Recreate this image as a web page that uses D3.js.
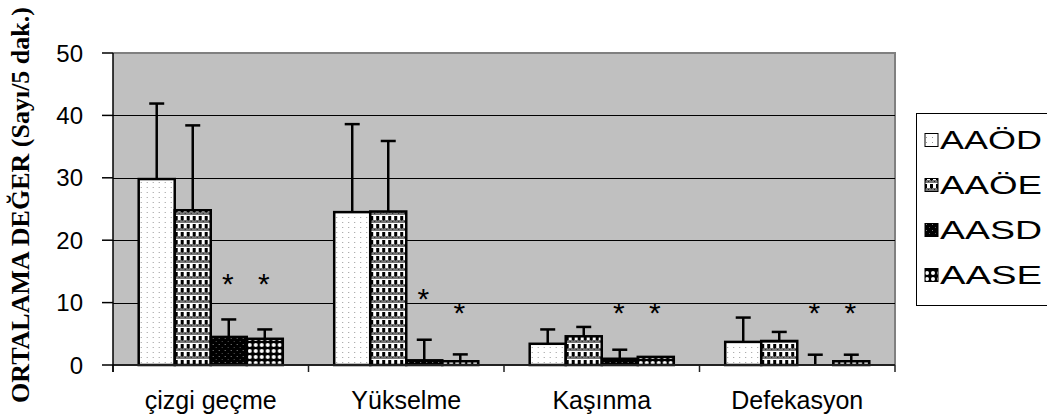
<!DOCTYPE html>
<html>
<head>
<meta charset="utf-8">
<script src="https://cdn.jsdelivr.net/npm/d3@7"></script>
<style>
  html, body { margin: 0; padding: 0; background: #fff; }
  svg { display: block; }
</style>
</head>
<body>
<div id="chart"></div>
<script>
// ---------- data ----------
const categories = ["çizgi geçme", "Yükselme", "Kaşınma", "Defekasyon"];
const seriesNames = ["AAÖD", "AAÖE", "AASD", "AASE"];
const meanAAOD = [29.8, 24.5, 3.4, 3.7];
const meanAAOE = [24.8, 24.6, 4.6, 3.85];
const meanAASD = [4.5, 0.75, 1.0, 0];
const meanAASE = [4.2, 0.6, 1.3, 0.6];
const sdAAOD = [12.1, 14.1, 2.3, 3.9];
const sdAAOE = [13.6, 11.3, 1.5, 1.45];
const sdAASD = [2.8, 3.3, 1.45, 1.65];
const sdAASE = [1.5, 1.1, 0, 1.05];
// significance markers (*) : y position (value units) above AASD / AASE bars
const starAASD = [13.8, 11.4, 9.1, 9.2];
const starAASE = [13.8, 9.2, 9.1, 9.2];
const yTicks = [0, 10, 20, 30, 40, 50];
const yTitle = "ORTALAMA DEĞER (Sayı/5 dak.)";

const means = [meanAAOD, meanAAOE, meanAASD, meanAASE];
const sds = [sdAAOD, sdAAOE, sdAASD, sdAASE];
const stars = [null, null, starAASD, starAASE];

// ---------- layout ----------
const W = 1047, H = 419;
const plot = { left: 113, right: 895, top: 53, bottom: 365 };

const svg = d3.select("#chart").append("svg")
  .attr("width", W).attr("height", H);

// ---------- patterns ----------
const defs = svg.append("defs");
// AAÖD: white with sparse grey dots
let p = defs.append("pattern").attr("id", "pat0").attr("patternUnits", "userSpaceOnUse")
  .attr("width", 6).attr("height", 5);
p.append("rect").attr("width", 6).attr("height", 5).attr("fill", "#fff");
p.append("rect").attr("x", 2).attr("y", 2).attr("width", 1).attr("height", 1).attr("fill", "#999");
// AAÖE: black/white checks with grey bands
p = defs.append("pattern").attr("id", "pat1").attr("patternUnits", "userSpaceOnUse")
  .attr("width", 6).attr("height", 8);
p.append("rect").attr("width", 6).attr("height", 8).attr("fill", "#fff");
p.append("rect").attr("x", 0).attr("y", 0).attr("width", 3).attr("height", 4).attr("fill", "#000");
p.append("rect").attr("x", 0).attr("y", 4).attr("width", 6).attr("height", 3).attr("fill", "#777");
p.append("rect").attr("x", 1).attr("y", 4).attr("width", 1).attr("height", 1).attr("fill", "#222");
p.append("rect").attr("x", 4).attr("y", 5).attr("width", 1).attr("height", 1).attr("fill", "#222");
// AASD: black with sparse grey dots
p = defs.append("pattern").attr("id", "pat2").attr("patternUnits", "userSpaceOnUse")
  .attr("width", 6).attr("height", 6);
p.append("rect").attr("width", 6).attr("height", 6).attr("fill", "#000");
p.append("rect").attr("x", 2).attr("y", 2).attr("width", 1).attr("height", 1).attr("fill", "#888");
p.append("rect").attr("x", 5).attr("y", 5).attr("width", 1).attr("height", 1).attr("fill", "#555");
// AASE: black with white dots
p = defs.append("pattern").attr("id", "pat3").attr("patternUnits", "userSpaceOnUse")
  .attr("width", 6).attr("height", 6);
p.append("rect").attr("width", 6).attr("height", 6).attr("fill", "#000");
p.append("circle").attr("cx", 3).attr("cy", 3).attr("r", 2).attr("fill", "#fff");

// ---------- scales ----------
const x0 = d3.scaleBand().domain(categories)
  .range([plot.left, plot.right]).paddingInner(0.263).paddingOuter(0.1315);
const x1 = d3.scaleBand().domain(d3.range(seriesNames.length))
  .range([0, x0.bandwidth()]);
const y = d3.scaleLinear().domain([0, 50]).range([plot.bottom, plot.top]);

// ---------- plot background ----------
svg.append("rect")
  .attr("x", plot.left).attr("y", plot.top)
  .attr("width", plot.right - plot.left).attr("height", plot.bottom - plot.top)
  .attr("fill", "#c0c0c0");
// grey top and right border
svg.append("path")
  .attr("d", `M${plot.left},${plot.top}H${plot.right}V${plot.bottom}`)
  .attr("fill", "none").attr("stroke", "#808080").attr("stroke-width", 2);

// gridlines
svg.append("g").selectAll("line").data(yTicks.filter(t => t > 0 && t < 50)).join("line")
  .attr("x1", plot.left).attr("x2", plot.right)
  .attr("y1", d => Math.round(y(d)) + 0.5).attr("y2", d => Math.round(y(d)) + 0.5)
  .attr("stroke", "#000").attr("stroke-width", 1);

// ---------- bars ----------
const gCat = svg.append("g").selectAll("g").data(categories).join("g")
  .attr("transform", d => `translate(${x0(d)},0)`);

gCat.each(function (cat, ci) {
  const g = d3.select(this);
  seriesNames.forEach((s, si) => {
    const v = means[si][ci];
    const bx = x1(si), bw = x1.bandwidth();
    if (v > 0) {
      g.append("rect")
        .attr("x", bx).attr("y", y(v))
        .attr("width", bw).attr("height", y(0) - y(v))
        .attr("fill", `url(#pat${si})`)
        .attr("stroke", "#000").attr("stroke-width", 2.5);
    }
    const sd = sds[si][ci];
    if (sd > 0) {
      const cx = bx + bw / 2;
      g.append("line")
        .attr("x1", cx).attr("x2", cx)
        .attr("y1", y(v)).attr("y2", y(v + sd))
        .attr("stroke", "#000").attr("stroke-width", 2.5);
      g.append("line")
        .attr("x1", cx - 7.5).attr("x2", cx + 7.5)
        .attr("y1", y(v + sd)).attr("y2", y(v + sd))
        .attr("stroke", "#000").attr("stroke-width", 2.5);
    }
    if (stars[si]) {
      g.append("text")
        .attr("x", bx + bw / 2 - 1)
        .attr("y", y(stars[si][ci]) + 15)
        .attr("text-anchor", "middle")
        .attr("font-family", "Liberation Sans, Arial, sans-serif")
        .attr("font-size", 30)
        .attr("fill", "#000")
        .text("*");
    }
  });
});

// ---------- axes ----------
// x axis line
svg.append("line")
  .attr("x1", plot.left).attr("x2", plot.right)
  .attr("y1", plot.bottom).attr("y2", plot.bottom)
  .attr("stroke", "#222").attr("stroke-width", 2);
// category tick marks (at band boundaries)
const boundaries = categories.map(c => x0(c) - x0.step() * x0.paddingInner() / 2)
  .concat([plot.right]);
svg.append("g").selectAll("line").data(boundaries).join("line")
  .attr("x1", d => d).attr("x2", d => d)
  .attr("y1", plot.bottom).attr("y2", plot.bottom + 7)
  .attr("stroke", "#222").attr("stroke-width", 1.5);
// category labels
svg.append("g").selectAll("text").data(categories).join("text")
  .attr("x", d => x0(d) + x0.bandwidth() / 2)
  .attr("y", 409)
  .attr("text-anchor", "middle")
  .attr("font-family", "Liberation Sans, Arial, sans-serif")
  .attr("font-size", 25)
  .attr("fill", "#000")
  .text(d => d);

// y axis
svg.append("line")
  .attr("x1", plot.left).attr("x2", plot.left)
  .attr("y1", plot.top).attr("y2", plot.bottom + 7)
  .attr("stroke", "#000").attr("stroke-width", 1.5);
svg.append("g").selectAll("line").data(yTicks).join("line")
  .attr("x1", plot.left - 11).attr("x2", plot.left)
  .attr("y1", d => y(d)).attr("y2", d => y(d))
  .attr("stroke", "#000").attr("stroke-width", 1.5);
svg.append("g").selectAll("text").data(yTicks).join("text")
  .attr("x", 83)
  .attr("y", d => y(d))
  .attr("dy", "0.36em")
  .attr("text-anchor", "end")
  .attr("font-family", "Liberation Sans, Arial, sans-serif")
  .attr("font-size", 24)
  .attr("fill", "#000")
  .text(d => d);

// y axis title
svg.append("text")
  .attr("transform", `translate(29,205) rotate(-90)`)
  .attr("text-anchor", "middle")
  .attr("font-family", "Liberation Serif, 'Times New Roman', serif")
  .attr("font-weight", "bold")
  .attr("font-size", 26)
  .attr("fill", "#000")
  .text(yTitle);

// ---------- legend ----------
const lg = svg.append("g");
lg.append("rect")
  .attr("x", 916.5).attr("y", 113.5)
  .attr("width", 140).attr("height", 192)
  .attr("fill", "#fff").attr("stroke", "#000").attr("stroke-width", 1);
const legendY = d3.scalePoint().domain(seriesNames).range([140, 275]);
const li = lg.selectAll("g.item").data(seriesNames).join("g").attr("class", "item");
li.append("rect")
  .attr("x", 925).attr("y", d => legendY(d) - 6.5)
  .attr("width", 13).attr("height", 13)
  .attr("fill", (d, i) => `url(#pat${i})`)
  .attr("stroke", "#000").attr("stroke-width", 1);
li.append("text")
  .attr("x", 940).attr("y", d => legendY(d))
  .attr("dy", "0.36em")
  .attr("font-family", "Liberation Sans, Arial, sans-serif")
  .attr("font-size", 26)
  .attr("textLength", 102)
  .attr("lengthAdjust", "spacingAndGlyphs")
  .attr("fill", "#000")
  .text(d => d);
</script>
</body>
</html>
